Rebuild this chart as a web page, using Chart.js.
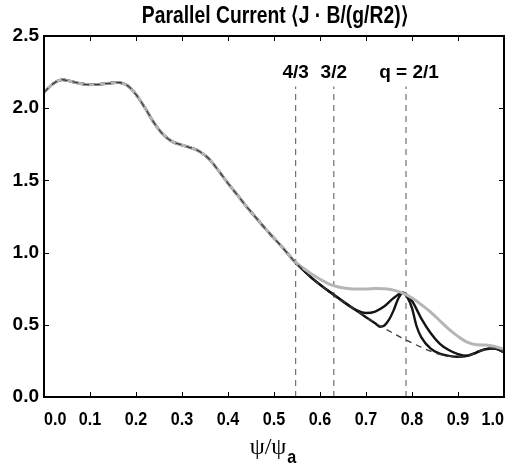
<!DOCTYPE html>
<html>
<head>
<meta charset="utf-8">
<script src="https://cdn.jsdelivr.net/npm/chart.js@4.4.1/dist/chart.umd.min.js"></script>
<style>
  html, body { margin: 0; padding: 0; background: #fff; }
  #wrap { width: 516px; height: 467px; }
</style>
</head>
<body>
<div id="wrap"><canvas id="chart" width="516" height="467"></canvas></div>
<script>
// unperturbed profile (dashed)
const basePsi = [0, .02, .04, .06, .08, .10, .12, .14, .16, .18, .20, .22, .24, .26, .28, .30, .32, .34, .36, .38, .40,
  .42, .44, .46, .48, .50, .52, .54, .56, .58, .60, .62, .64, .66, .68, .70, .72, .74, .76, .78, .80,
  .82, .84, .86, .88, .90, .92, .94, .96, .98, 1.00];
const baseJ = [2.11, 2.17, 2.197, 2.185, 2.17, 2.162, 2.165, 2.172, 2.178, 2.16, 2.095, 2.00, 1.895, 1.815, 1.767, 1.745, 1.725, 1.697, 1.645, 1.565, 1.48,
  1.40, 1.32, 1.245, 1.17, 1.10, 1.03, 0.955, 0.89, 0.83, 0.778, 0.73, 0.685, 0.64, 0.597, 0.553, 0.513, 0.475, 0.44, 0.405, 0.375,
  0.345, 0.317, 0.296, 0.283, 0.279, 0.285, 0.308, 0.332, 0.336, 0.31];

// gray profile, where it leaves the base one
const grayPsi = [.56, .58, .60, .62, .64, .66, .68, .70, .72, .74, .76, .78, .80, .82, .84, .86, .88, .90, .92, .94, .96, .98, 1.00];
const grayJ = [0.90, 0.855, 0.815, 0.782, 0.762, 0.752, 0.748, 0.748, 0.752, 0.75, 0.74, 0.72, 0.685, 0.64, 0.59, 0.53, 0.47, 0.42, 0.38, 0.362, 0.36, 0.35, 0.33];

// black profiles, wide and narrow island
const widePsi = [.66, .68, .70, .72, .74, .76, .78, .80, .82, .84, .86, .88, .90, .92];
const wideJ = [0.638, 0.60, 0.582, 0.592, 0.628, 0.685, 0.722, 0.665, 0.545, 0.445, 0.37, 0.325, 0.297, 0.286];
const narrowPsi = [.72, .73, .74, .75, .76, .77, .78, .79, .80, .81, .82, .84, .86, .88];
const narrowJ = [0.51, 0.487, 0.495, 0.535, 0.60, 0.68, 0.722, 0.69, 0.615, 0.49, 0.415, 0.337, 0.30, 0.285];

// rational surfaces
const resPsi = [0.547, 0.63, 0.787];
const resLabels = ['4/3', '3/2', 'q = 2/1'];
const resTop = 2.15;

const xTicks = [0, .1, .2, .3, .4, .5, .6, .7, .8, .9, 1.0];
const yTicks = [0, 0.5, 1.0, 1.5, 2.0, 2.5];

function pts(px, py) { return px.map((x, i) => ({ x: x, y: py[i] })); }
function withBase(px, py) {
  const lo = px[0], hi = px[px.length - 1];
  const base = pts(basePsi, baseJ);
  return base.filter(p => p.x < lo - 1e-9).concat(pts(px, py), base.filter(p => p.x > hi + 1e-9));
}

const line = (data, color, width, order, dash) => ({
  data: data, borderColor: color, borderWidth: width, borderDash: dash || [],
  pointRadius: 0, fill: false, cubicInterpolationMode: 'monotone', order: order
});

const datasets = [
  line(pts(basePsi, baseJ), '#3a3a3a', 1.3, 0, [6, 5]),
  line(withBase(grayPsi, grayJ), '#b5b5b5', 3, 1),
  line(withBase(widePsi, wideJ), '#141414', 2.4, 2),
  line(withBase(narrowPsi, narrowJ), '#141414', 2.4, 3)
];
resPsi.forEach(p => datasets.push({
  data: [{ x: p, y: 0 }, { x: p, y: resTop }], borderColor: '#707070', borderWidth: 1.2,
  borderDash: [6, 5], pointRadius: 0, tension: 0, order: 5
}));

// condensed bold text, the original figure uses a narrow face
function narrowText(ctx, text, x, y, size, squeeze, align) {
  ctx.save();
  ctx.font = 'bold ' + size + "px 'Liberation Sans', Arial, sans-serif";
  ctx.textAlign = align || 'center';
  ctx.translate(x, y);
  ctx.scale(squeeze, 1);
  ctx.fillText(text, 0, 0);
  ctx.restore();
}

const decor = {
  id: 'decor',
  afterDraw(chart) {
    const { ctx, chartArea: a, scales: { x, y } } = chart;
    ctx.save();
    // inward ticks on all four sides
    ctx.strokeStyle = '#000';
    ctx.lineWidth = 1;
    ctx.beginPath();
    xTicks.forEach(v => {
      const px = Math.round(x.getPixelForValue(v)) + 0.5;
      ctx.moveTo(px, a.bottom); ctx.lineTo(px, a.bottom - 5);
      ctx.moveTo(px, a.top); ctx.lineTo(px, a.top + 5);
    });
    yTicks.forEach(v => {
      const py = Math.round(y.getPixelForValue(v)) + 0.5;
      ctx.moveTo(a.left, py); ctx.lineTo(a.left + 5, py);
      ctx.moveTo(a.right, py); ctx.lineTo(a.right - 5, py);
    });
    ctx.stroke();
    ctx.lineWidth = 2;
    ctx.strokeRect(a.left, a.top, a.right - a.left, a.bottom - a.top);

    ctx.fillStyle = '#000';
    ctx.textBaseline = 'alphabetic';

    // x tick labels, end ones kept inside the frame
    xTicks.forEach((v, i) => {
      let px = x.getPixelForValue(v), align = 'center';
      if (i === 0) { px = a.left; align = 'left'; }
      if (i === xTicks.length - 1) { px = a.right; align = 'right'; }
      narrowText(ctx, v.toFixed(1), px, a.bottom + 28, 19, 0.85, align);
    });

    narrowText(ctx, 'Parallel Current \u27E8J \u00B7 B/(g/R2)\u27E9', 275, 23, 23, 0.84);

    ctx.textAlign = 'center';
    ctx.font = "bold 19px 'Liberation Sans', sans-serif";
    resPsi.forEach((p, i) => {
      const off = i === 2 ? 3 : 0;
      ctx.fillText(resLabels[i], x.getPixelForValue(p) + off, 78);
    });

    // axis title psi/psi_a
    ctx.textAlign = 'left';
    ctx.font = "24px 'Liberation Serif', serif";
    const t = '\u03C8/\u03C8';
    const w = ctx.measureText(t).width;
    const x0 = 268 - w / 2;
    ctx.fillText(t, x0, 454);
    narrowText(ctx, 'a', x0 + w + 1, 463, 19, 0.85, 'left');
    ctx.restore();
  }
};

new Chart(document.getElementById('chart'), {
  type: 'line',
  data: { datasets: datasets },
  options: {
    responsive: false,
    animation: false,
    devicePixelRatio: 1,
    layout: { padding: { top: 36, right: 12, left: 0, bottom: 0 } },
    plugins: { legend: { display: false }, tooltip: { enabled: false }, title: { display: false } },
    scales: {
      x: {
        type: 'linear', min: 0, max: 1,
        grid: { display: false, drawTicks: false },
        border: { display: false },
        ticks: { display: false },
        afterFit: s => { s.height = 70; s.paddingLeft = 0; s.paddingRight = 0; },
        afterBuildTicks: s => { s.ticks = xTicks.map(v => ({ value: v })); }
      },
      y: {
        type: 'linear', min: 0, max: 2.5,
        grid: { display: false, drawTicks: false },
        border: { display: false },
        afterFit: s => { s.width = 44; s.paddingTop = 0; s.paddingBottom = 0; },
        afterBuildTicks: s => { s.ticks = yTicks.map(v => ({ value: v })); },
        ticks: {
          color: '#000', padding: 5,
          font: { family: "'Liberation Sans', sans-serif", size: 19, weight: 'bold' },
          callback: v => v.toFixed(1)
        }
      }
    }
  },
  plugins: [decor]
});
</script>
</body>
</html>
